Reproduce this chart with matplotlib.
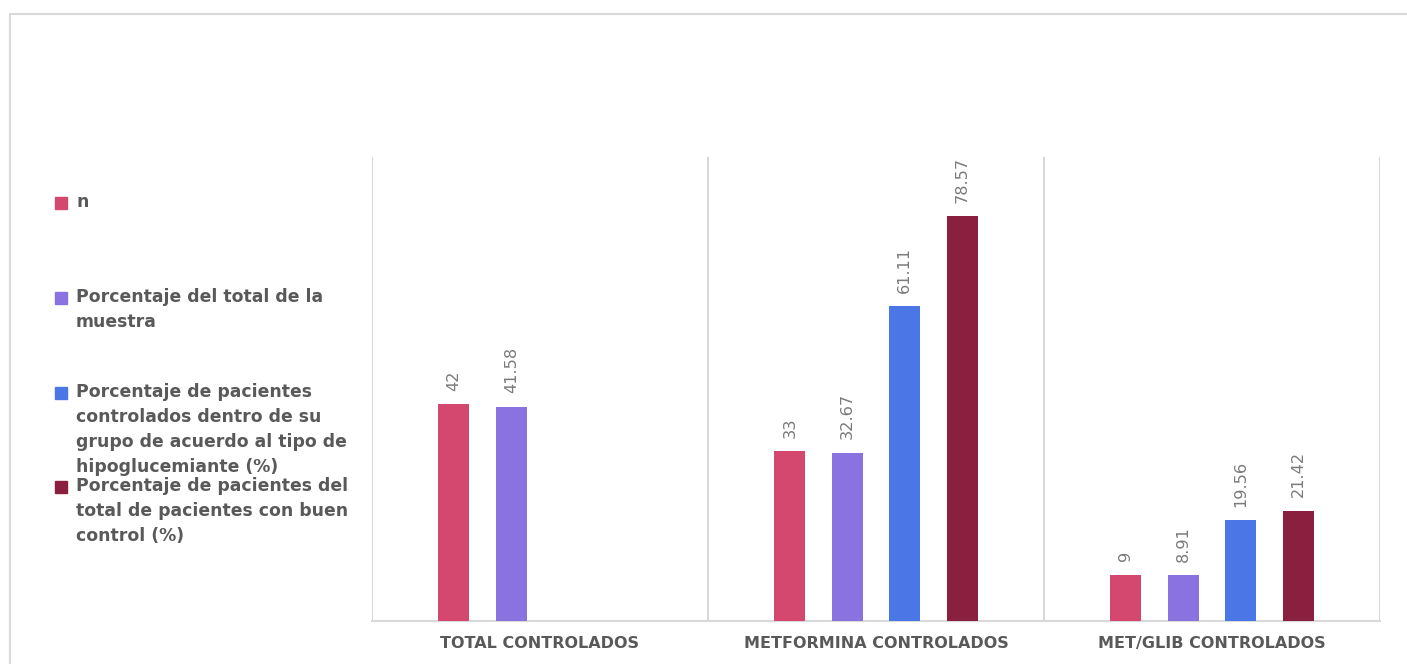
import matplotlib
matplotlib.use("Agg")
import matplotlib.pyplot as plt
import numpy as np
from matplotlib.patches import Rectangle

categories = ["TOTAL CONTROLADOS", "METFORMINA CONTROLADOS", "MET/GLIB CONTROLADOS"]
series_names = [
    "n",
    "Porcentaje del total de la\nmuestra",
    "Porcentaje de pacientes\ncontrolados dentro de su\ngrupo de acuerdo al tipo de\nhipoglucemiante (%)",
    "Porcentaje de pacientes del\ntotal de pacientes con buen\ncontrol (%)",
]
n_values = [42, 33, 9]
pct_total = [41.58, 32.67, 8.91]
pct_group = [np.nan, 61.11, 19.56]
pct_good = [np.nan, 78.57, 21.42]
label_text = [
    ["42", "33", "9"],
    ["41.58", "32.67", "8.91"],
    ["", "61.11", "19.56"],
    ["", "78.57", "21.42"],
]
colors = ["#D4486F", "#8A72E0", "#4A76E6", "#8B1F40"]

plt.rcParams['font.family'] = ['DejaVu Sans']

W, H = 1407, 664
fig = plt.figure(figsize=(W / 100, H / 100), dpi=100)
ax = fig.add_axes([372 / W, (H - 621) / H, (1380 - 372) / W, (621 - 157) / H])

series = [n_values, pct_total, pct_group, pct_good]
x = np.arange(len(categories))
step = 0.171
bw = 0.092
for i, vals in enumerate(series):
    pos = x + (i - 1.5) * step
    for j, v in enumerate(vals):
        if np.isnan(v):
            continue
        ax.bar(pos[j], v, width=bw, color=colors[i], zorder=3)
        ax.annotate(label_text[i][j], (pos[j], v), xytext=(0, 9.5), textcoords="offset points",
                    rotation=90, ha="center", va="bottom", fontsize=11.6, color="#7a7a7a")

ax.set_xlim(-0.5, 2.5)
ax.set_ylim(0, 90)
ax.set_yticks([])
ax.set_xticks(x)
ax.set_xticklabels(categories, fontsize=11.5, fontweight="bold", color="#595959")
ax.tick_params(axis="x", length=0, pad=11)
for s in ["top", "left", "right"]:
    ax.spines[s].set_visible(False)
ax.spines["bottom"].set_color("#d9d9d9")
ax.spines["bottom"].set_linewidth(1.5)
for b in [-0.5, 0.5, 1.5, 2.5]:
    ax.axvline(b, color="#d9d9d9", lw=1.5, zorder=1)

# outer chart frame
fig.add_artist(Rectangle((10 / W, -0.1), 1.2, 1.1 - 14 / H, transform=fig.transFigure,
                         fill=False, edgecolor="#d9d9d9", lw=1.5))

# legend (manual layout)
legend_y = [203, 298, 393, 487]
for i, name in enumerate(series_names):
    yy = legend_y[i]
    fig.add_artist(Rectangle((55 / W, (H - yy - 6) / H), 12 / W, 12 / H,
                             transform=fig.transFigure, color=colors[i]))
    fig.text(76 / W, (H - yy + 10) / H, name, ha="left", va="top", fontsize=12.4,
             fontweight="bold", color="#595959", linespacing=1.51)

fig.savefig("out.png", dpi=100)
